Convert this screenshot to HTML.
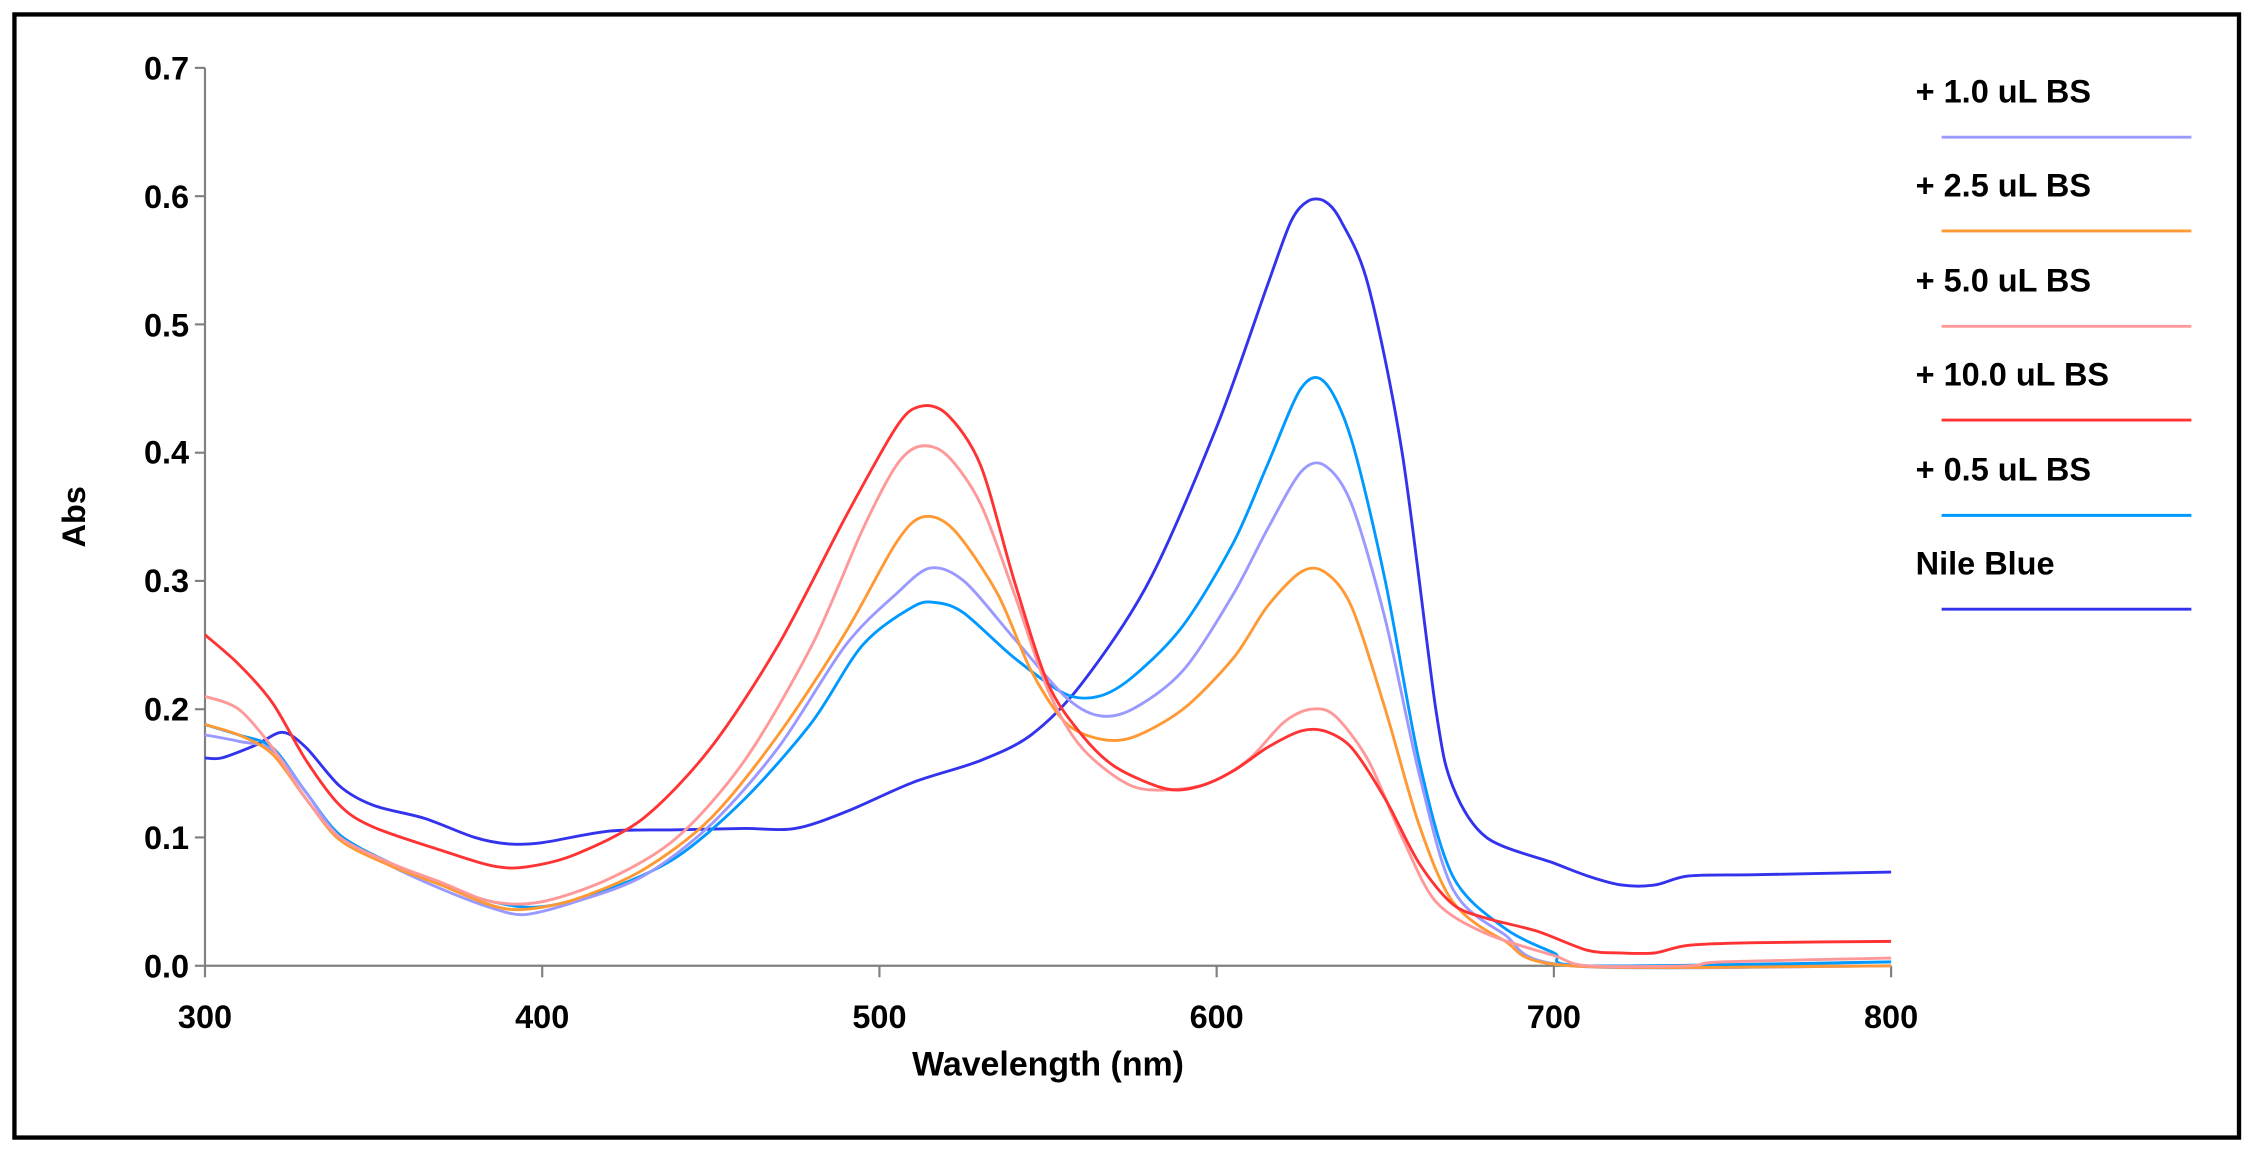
<!DOCTYPE html>
<html><head><meta charset="utf-8"><style>
html,body{margin:0;padding:0;background:#fff;}
svg{display:block;}
text{font-family:"Liberation Sans",Arial,sans-serif;font-weight:bold;fill:#000;}
</style></head><body>
<svg id="s" width="2252" height="1152" viewBox="0 0 1560 798" xmlns="http://www.w3.org/2000/svg">
<rect x="0" y="0" width="1560" height="798" fill="#fff"/>
<rect x="10" y="10" width="1541" height="778" fill="none" stroke="#000" stroke-width="3"/>
<g stroke="#808080" stroke-width="1.5" fill="none">
<line x1="142" y1="47" x2="142" y2="669"/>
<line x1="142" y1="669" x2="1310" y2="669"/>
<line x1="135" y1="47" x2="142" y2="47"/>
<line x1="135" y1="135.9" x2="142" y2="135.9"/>
<line x1="135" y1="224.7" x2="142" y2="224.7"/>
<line x1="135" y1="313.6" x2="142" y2="313.6"/>
<line x1="135" y1="402.4" x2="142" y2="402.4"/>
<line x1="135" y1="491.3" x2="142" y2="491.3"/>
<line x1="135" y1="580.1" x2="142" y2="580.1"/>
<line x1="135" y1="669" x2="142" y2="669"/>
<line x1="142" y1="669" x2="142" y2="677"/>
<line x1="375.6" y1="669" x2="375.6" y2="677"/>
<line x1="609.2" y1="669" x2="609.2" y2="677"/>
<line x1="842.8" y1="669" x2="842.8" y2="677"/>
<line x1="1076.4" y1="669" x2="1076.4" y2="677"/>
<line x1="1310" y1="669" x2="1310" y2="677"/>
</g>
<g font-size="22.5" text-anchor="end">
<text x="131" y="55">0.7</text>
<text x="131" y="144">0.6</text>
<text x="131" y="233">0.5</text>
<text x="131" y="321">0.4</text>
<text x="131" y="410">0.3</text>
<text x="131" y="499">0.2</text>
<text x="131" y="588">0.1</text>
<text x="131" y="677">0.0</text>
</g>
<g font-size="22.5" text-anchor="middle">
<text x="142" y="712">300</text>
<text x="375.6" y="712">400</text>
<text x="609.2" y="712">500</text>
<text x="842.8" y="712">600</text>
<text x="1076.4" y="712">700</text>
<text x="1310" y="712">800</text>
<text x="726" y="745" font-size="23.5">Wavelength (nm)</text>
<text x="0" y="0" font-size="22.5" transform="translate(59,358) rotate(-90)">Abs</text>
</g>
<g font-size="22.5">
<text x="1327" y="71">+ 1.0 uL BS</text>
<text x="1327" y="136">+ 2.5 uL BS</text>
<text x="1327" y="202">+ 5.0 uL BS</text>
<text x="1327" y="267">+ 10.0 uL BS</text>
<text x="1327" y="333">+ 0.5 uL BS</text>
<text x="1327" y="398">Nile Blue</text>
</g>
<g stroke-width="2">
<line x1="1345" y1="95" x2="1518" y2="95" stroke="#9999ff"/>
<line x1="1345" y1="160" x2="1518" y2="160" stroke="#ff9933"/>
<line x1="1345" y1="226" x2="1518" y2="226" stroke="#ff9999"/>
<line x1="1345" y1="291" x2="1518" y2="291" stroke="#ff3333"/>
<line x1="1345" y1="357" x2="1518" y2="357" stroke="#0099ff"/>
<line x1="1345" y1="422" x2="1518" y2="422" stroke="#3333ee"/>
</g>
<g id="curves" fill="none" stroke-width="2" stroke-linejoin="round"></g>
</svg>
<script>
var D={
"#3333ee":[300,.162,305,.162,315,.172,323,.182,330,.17,340,.14,350,.125,365,.115,380,.1,390,.095,400,.096,420,.105,440,.106,460,.107,475,.107,490,.12,510,.143,530,.16,545,.18,560,.22,580,.3,600,.42,615,.53,622,.58,627,.596,632,.596,637,.58,645,.53,655,.4,665,.2,670,.14,680,.1,700,.08,710,.07,720,.063,730,.063,740,.07,760,.071,800,.073],
"#0099ff":[300,.188,310,.18,320,.17,330,.135,340,.102,355,.08,370,.063,385,.05,400,.046,420,.06,440,.085,460,.13,480,.19,495,.25,510,.28,517,.283,525,.275,540,.24,555,.212,565,.21,575,.225,590,.265,605,.33,615,.39,625,.45,632,.455,640,.41,650,.3,660,.16,670,.07,685,.03,700,.01,710,0,800,.003],
"#9999ff":[300,.18,310,.175,320,.168,330,.135,340,.1,355,.078,370,.06,385,.045,395,.04,410,.05,430,.07,450,.11,470,.17,490,.25,505,.29,515,.31,525,.3,540,.255,555,.21,565,.195,575,.2,590,.23,605,.29,615,.34,625,.385,632,.39,640,.36,650,.27,660,.15,670,.06,685,.025,705,0,800,0],
"#ff9933":[300,.188,310,.18,320,.165,330,.13,340,.098,355,.078,370,.063,385,.047,395,.044,410,.052,430,.075,450,.115,470,.18,490,.26,505,.33,513,.35,522,.34,535,.29,545,.23,555,.19,565,.177,575,.178,590,.2,605,.24,615,.28,625,.307,632,.307,640,.28,650,.2,660,.11,670,.05,685,.02,705,0,800,0],
"#ff9999":[300,.21,310,.2,320,.17,330,.13,340,.1,355,.08,370,.065,385,.05,400,.05,420,.068,440,.1,460,.16,480,.25,495,.34,505,.39,512,.405,520,.398,530,.36,540,.29,550,.215,560,.17,575,.14,590,.138,600,.145,610,.162,620,.19,628,.2,635,.195,645,.16,655,.1,665,.05,680,.025,700,.008,710,0,740,0,750,.003,800,.006],
"#ff3333":[300,.258,310,.235,320,.205,330,.16,340,.125,350,.108,370,.09,385,.078,395,.077,410,.087,430,.115,450,.17,470,.25,490,.35,505,.42,512,.436,520,.43,530,.39,540,.3,550,.22,560,.18,570,.155,585,.138,595,.14,605,.152,615,.17,625,.183,632,.183,640,.17,650,.13,660,.08,670,.048,680,.037,695,.027,710,.012,720,.01,730,.01,740,.016,760,.018,800,.019]
};
var g=document.getElementById('curves'),ns="http://www.w3.org/2000/svg";
for(var c in D){var a=D[c],P=[];for(var i=0;i<a.length;i+=2){P.push([142+(a[i]-300)*2.336,669-a[i+1]*888.6]);}
var d="M"+P[0][0].toFixed(1)+","+P[0][1].toFixed(1);
for(var k=0;k<P.length-1;k++){var p0=P[k-1]||P[k],p1=P[k],p2=P[k+1],p3=P[k+2]||p2;var t=0.15;
var c1x=p1[0]+(p2[0]-p0[0])*t,c1y=p1[1]+(p2[1]-p0[1])*t,c2x=p2[0]-(p3[0]-p1[0])*t,c2y=p2[1]-(p3[1]-p1[1])*t;
d+=" C"+c1x.toFixed(1)+","+c1y.toFixed(1)+" "+c2x.toFixed(1)+","+c2y.toFixed(1)+" "+p2[0].toFixed(1)+","+p2[1].toFixed(1);}
var e=document.createElementNS(ns,"path");e.setAttribute("d",d);e.setAttribute("stroke",c);g.appendChild(e);}
</script>
</body></html>
